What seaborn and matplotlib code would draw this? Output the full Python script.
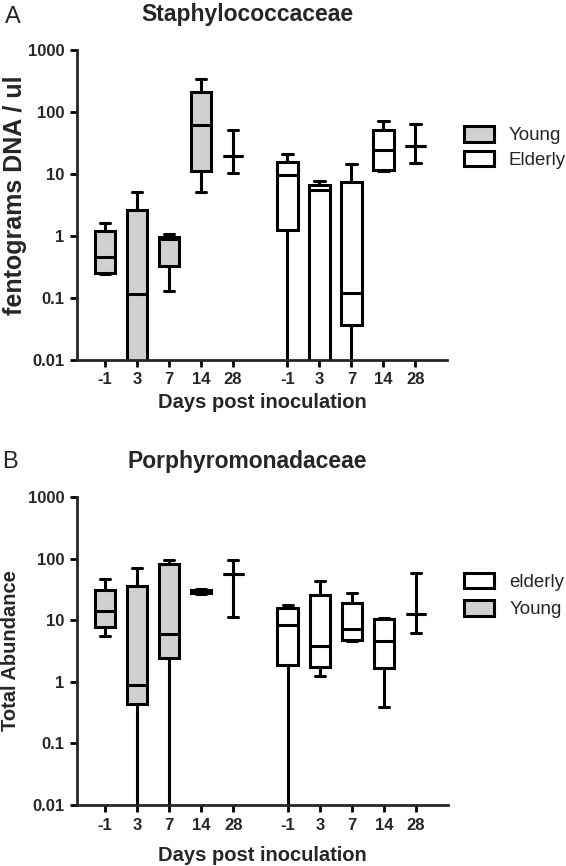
import numpy as np
import pandas as pd
import seaborn as sns
import matplotlib.pyplot as plt
from matplotlib.patches import Patch

# days post inoculation (same for both groups)
days = ["-1", "3", "7", "14", "28"]

# five-number summaries: min, q1, median, q3, max
# 0.001 stands for values under the 0.01 axis floor
staph_young = [
    [0.24, 0.256, 0.46, 1.22, 1.6],
    [0.001, 0.003, 0.116, 2.6, 5.1],
    [0.13, 0.333, 0.9, 0.975, 1.06],
    [5.1, 11.2, 62, 207, 340],
    [10.4, 19.8, 19.8, 19.8, 51],
]
staph_elderly = [
    [0.001, 1.25, 9.6, 15.4, 20.8],
    [0.001, 0.003, 5.6, 6.6, 7.7],
    [0.001, 0.037, 0.122, 7.5, 14.3],
    [11, 11.6, 24.4, 51, 72],
    [14.9, 28.6, 28.6, 28.6, 64],
]
porph_young = [
    [5.6, 7.8, 14, 30.6, 46],
    [0.001, 0.43, 0.9, 36, 70],
    [0.001, 2.45, 5.9, 83, 94],
    [26.5, 28, 29.5, 31, 32],
    [11.2, 57, 57, 57, 96],
]
porph_elderly = [
    [0.001, 1.86, 8.3, 16, 17.5],
    [1.24, 1.75, 3.8, 26, 43.4],
    [4.6, 4.74, 7.1, 19.1, 28],
    [0.39, 1.69, 4.6, 10.4, 11],
    [6.3, 12.5, 12.5, 12.5, 59],
]

gray = "#d0d0d0"
colors = {"Young": gray, "Elderly": "white"}
gap = 5.7


def long_table(young, elderly):
    rows = []
    for grp, stats, off in (("Young", young, 0.0), ("Elderly", elderly, gap)):
        for i, five in enumerate(stats):
            for v in five:
                rows.append({"pos": i + off, "value": v, "group": grp})
    return pd.DataFrame(rows)


sns.set_style("ticks")
plt.rcParams["font.family"] = ["Liberation Sans", "DejaVu Sans"]

fig = plt.figure(figsize=(5.66, 8.66), dpi=100)
axA = fig.add_axes([0.136, 0.5843, 0.654, 0.358])
axB = fig.add_axes([0.136, 0.0704, 0.655, 0.3557])

panels = [
    (axA, staph_young, staph_elderly, "Staphylococcaceae", "fentograms DNA / ul",
     18, ["Young", "Elderly"], (-0.135, 0.53), 4, 0.35),
    (axB, porph_young, porph_elderly, "Porphyromonadaceae", "Total Abundance",
     14.5, ["elderly", "Young"], (-0.154, 0.503), 10, 0.5),
]

xpos = [i for i in range(len(days))] + [i + gap for i in range(len(days))]
yt = [0.01, 0.1, 1, 10, 100, 1000]
ytl = ["0.01", "0.1", "1", "10", "100", "1000"]

for ax, young, elderly, title, ylab, ysize, leg_order, ylab_xy, xpad, lsp in panels:
    df = long_table(young, elderly)
    sns.boxplot(data=df, x="pos", y="value", hue="group", palette=colors,
                native_scale=True, dodge=False, whis=(0, 100), width=0.64,
                linecolor="black", linewidth=2.2, log_scale=(False, True),
                legend=False, ax=ax)
    ax.set_ylim(0.01, 1000)
    ax.set_xlim(-0.875, 10.69)
    ax.set_yticks(yt, ytl)
    ax.minorticks_off()
    ax.set_xticks(xpos, days * 2)
    for lab in ax.get_xticklabels() + ax.get_yticklabels():
        lab.set_fontweight("bold")
        lab.set_fontsize(12)
    ax.tick_params(width=2, length=5, pad=4, color="black")
    sns.despine(ax=ax)
    for s in ("left", "bottom"):
        ax.spines[s].set_linewidth(2)
    ax.set_xlabel("Days post inoculation", fontsize=14.5, fontweight="bold",
                  labelpad=xpad)
    ax.set_ylabel(ylab, fontsize=ysize, fontweight="bold")
    ax.yaxis.set_label_coords(*ylab_xy)
    ax.text(0.46, 1.115, title, transform=ax.transAxes, ha="center",
            va="center", fontsize=16.5, fontweight="bold")
    handles = [Patch(facecolor=colors["Young"] if g.lower() == "young" else "white",
                     edgecolor="black", linewidth=2.2, label=g) for g in leg_order]
    ax.legend(handles=handles, loc="upper left", bbox_to_anchor=(1.02, 0.785),
              frameon=False, fontsize=13.5, handlelength=1.6, handleheight=0.9,
              handletextpad=0.8, labelspacing=lsp, borderpad=0)

fig.text(0.008, 0.993, "A", fontsize=17, va="top", ha="left")
fig.text(0.004, 0.479, "B", fontsize=17, va="top", ha="left")

fig.savefig("out.png", dpi=100)
